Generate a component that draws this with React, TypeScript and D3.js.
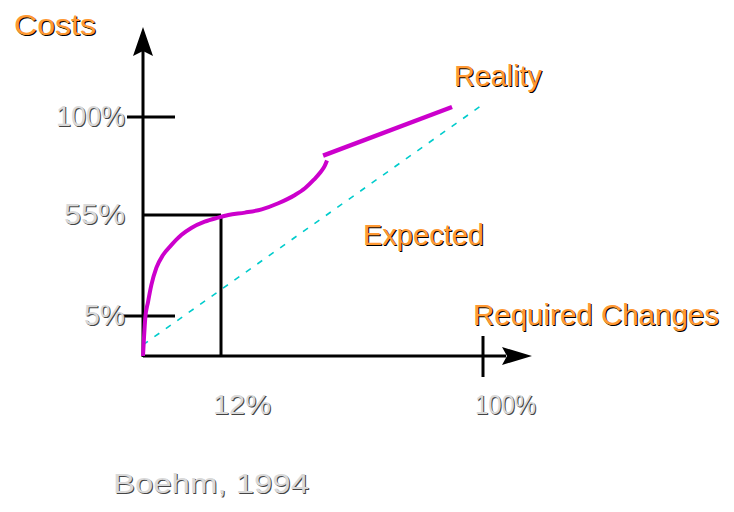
import React from "react";
import * as d3 from "d3";

// Schematic axis breakpoints (percent values)
const xTickValues = [12, 100];
const xTickLabels = ["12%", "100%"];
const yTickValues = [5, 55, 100];
const yTickLabels = ["5%", "55%", "100%"];

// Reality curve, part 1 (x = required changes %, y = costs %)
const realityX1 = [0, 0.15, 0.35, 0.77, 1.28, 2.05, 3.08, 4.35, 5.89, 7.43, 9.49, 11.54, 14.45, 20.06, 25.67, 31.25, 36.86, 40.2, 43.2, 45.4, 46.8, 47.6];
const realityY1 = [0, 2.25, 4.75, 11.9, 20.3, 28.8, 35.2, 40.1, 45.1, 48.6, 51.7, 53.7, 55.0, 56.1, 57.6, 60.4, 64.2, 67.3, 71.2, 74.6, 77.4, 80.0];
// Reality curve, part 2 (straight jump)
const realityX2 = [46.3, 89.6];
const realityY2 = [82.3, 104.6];
// Expected (dashed)
const expectedX = [0, 99.7];
const expectedY = [1.4, 105.5];

const W = 734;
const H = 512;

const ORANGE = "#ff9933";
const GRAY = "#d9d9d9";

function ShadowText({ x, y, text, fill, shadow, anchor = "start", size = 30, len }: any) {
  const common: any = {
    fontFamily: "'Liberation Sans', Arial, sans-serif",
    fontSize: size,
    textAnchor: anchor,
  };
  if (len) {
    common.textLength = len;
    common.lengthAdjust = "spacingAndGlyphs";
  }
  return (
    <g>
      <text x={x + 1} y={y + 1} fill={shadow} {...common}>{text}</text>
      <text x={x} y={y} fill={fill} {...common}>{text}</text>
    </g>
  );
}

export default function App() {
  const x = d3.scaleLinear().domain([0, 12, 100]).range([143, 221, 483]);
  const y = d3.scaleLinear().domain([0, 5, 55, 100]).range([356, 316, 215, 117]);

  const x0 = x(0);
  const y0 = y(0);

  const line = d3
    .line<[number, number]>()
    .x((d) => x(d[0]))
    .y((d) => y(d[1]))
    .curve(d3.curveMonotoneX);
  const straight = d3
    .line<[number, number]>()
    .x((d) => x(d[0]))
    .y((d) => y(d[1]));

  const r1 = realityX1.map((v, i) => [v, realityY1[i]] as [number, number]);
  const r2 = realityX2.map((v, i) => [v, realityY2[i]] as [number, number]);
  const ex = expectedX.map((v, i) => [v, expectedY[i]] as [number, number]);

  const yTop = 27;
  const xRight = 532;
  const yLabelLen = [41, 61, 69];
  const xLabelLen = [58, 61];

  return (
    <svg
      width={W}
      height={H}
      style={{ position: "fixed", left: 0, top: 0, background: "#fff" }}
    >
      <rect x={0} y={0} width={W} height={H} fill="#fff" />
      {/* expected dashed line */}
      <path d={straight(ex) || ""} fill="none" stroke="#00cccc" strokeWidth={1.6} strokeDasharray="6,8" />

      {/* axes */}
      <g stroke="#000" strokeWidth={3} fill="none">
        <line x1={x0} y1={y0 + 1} x2={x0} y2={yTop + 22} />
        <line x1={x0} y1={y0} x2={xRight - 26} y2={y0} />
        {/* y ticks */}
        <line x1={x0 - 16} y1={y(100)} x2={x0 + 32} y2={y(100)} />
        <line x1={x0 - 19} y1={y(5)} x2={x0 + 32} y2={y(5)} />
        <line x1={x0} y1={y(55)} x2={x(12)} y2={y(55)} />
        {/* x ticks */}
        <line x1={x(12)} y1={y(55)} x2={x(12)} y2={y0} />
        <line x1={x(100)} y1={y0 - 20} x2={x(100)} y2={y0 + 21} />
      </g>
      {/* arrowheads */}
      <path
        d={`M${x0},${yTop} L${x0 + 10},${yTop + 29} L${x0},${yTop + 24} L${x0 - 10},${yTop + 29} Z`}
        fill="#000"
      />
      <path
        d={`M${xRight},${y0} L${xRight - 30},${y0 - 9} L${xRight - 25},${y0} L${xRight - 30},${y0 + 9} Z`}
        fill="#000"
      />

      {/* reality */}
      <path d={line(r1) || ""} fill="none" stroke="#cc00cc" strokeWidth={4} strokeLinecap="butt" />
      <path d={straight(r2) || ""} fill="none" stroke="#cc00cc" strokeWidth={4.5} />

      {/* labels */}
      <ShadowText x={14} y={35} text="Costs" fill={ORANGE} shadow="#000" size={30} len={82} />
      <ShadowText x={454} y={86} text="Reality" fill={ORANGE} shadow="#000" size={30} len={88} />
      <ShadowText x={363} y={245} text="Expected" fill={ORANGE} shadow="#000" size={30} len={121} />
      <ShadowText x={473} y={325} text="Required Changes" fill={ORANGE} shadow="#000" size={30} len={246} />

      {yTickValues.map((v, i) => (
        <ShadowText key={v} x={x0 - 18} y={y(v) + 9} text={yTickLabels[i]} fill={GRAY} shadow="#444" anchor="end" size={29} len={yLabelLen[i]} />
      ))}
      {xTickValues.map((v, i) => (
        <ShadowText key={v} x={x(v) - 8} y={414} text={xTickLabels[i]} fill={GRAY} shadow="#444" size={28} len={xLabelLen[i]} />
      ))}
      <ShadowText x={113} y={493} text="Boehm, 1994" fill={GRAY} shadow="#444" size={27} len={196} />
    </svg>
  );
}
